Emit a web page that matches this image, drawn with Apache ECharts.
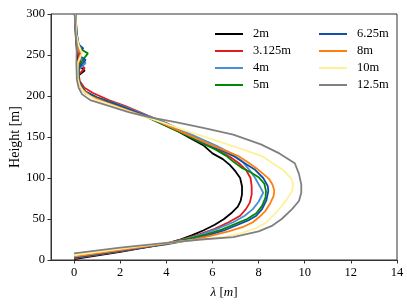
<!DOCTYPE html>
<html><head><meta charset="utf-8">
<script src="https://cdn.jsdelivr.net/npm/echarts@6/dist/echarts.min.js"></script>
<style>html,body{margin:0;padding:0;background:#fff}#c{width:407px;height:305px}</style>
</head><body><div id="c"></div>
<script>
// Series names (legend) and profiles as [lambda (m), height (m)]
const names = ['2m','3.125m','4m','5m','6.25m','8m','10m','12.5m'];
const colors = ['#000000','#e41a1c','#4a8fd4','#008800','#1050a8','#ff7f0e','#fff09a','#808080'];
const xTicks = [0,2,4,6,8,10,12,14];
const yTicks = [0,50,100,150,200,250,300];

const p2m = [[0,1],[2,10],[4,20],[4.6,25],[5.1,30],[5.6,36],[6.1,43],[6.5,50],[6.85,58],[7.1,65],[7.22,72],[7.28,80],[7.28,90],[7.2,100],[7.0,108],[6.75,116],[6.45,123],[6.0,130],[5.6,140],[5.0,149],[4.5,157],[3.9,165],[3.2,174],[2.4,183],[1.8,190],[1.0,197],[0.5,203],[0.3,210],[0.2,218],[0.15,224],[0.46,231],[0.25,236],[0.18,242],[0.12,255],[0.08,270],[0.05,285],[0.03,300]];
const p3125m = [[0,2],[2,10.5],[4,20],[4.8,26],[5.4,31],[6.1,38],[6.7,46],[7.2,54],[7.45,62],[7.62,70],[7.7,80],[7.7,90],[7.65,100],[7.45,110],[7.15,118],[6.75,126],[6.3,133],[5.7,142],[5.1,150],[4.5,160],[4.0,167],[3.2,176],[2.2,188],[1.5,195],[0.8,204],[0.45,210],[0.25,218],[0.2,226],[0.46,234],[0.3,238],[0.25,244],[0.15,255],[0.1,270],[0.06,285],[0.04,300]];
const p4m = [[0,2.5],[2,11],[4,20],[4.9,26],[5.5,31],[6.2,38],[6.9,46],[7.4,54],[7.75,62],[8.0,71],[8.2,82],[8.05,90],[7.85,100],[7.6,110],[7.3,120],[6.8,130],[6.2,139],[5.4,149],[4.6,159],[3.8,169],[3.0,178],[2.0,189],[1.0,198],[0.5,205],[0.3,212],[0.2,220],[0.2,232],[0.5,240],[0.3,246],[0.25,252],[0.15,260],[0.1,275],[0.06,300]];
const p5m = [[0,3],[2,11.5],[4,20],[5.0,26],[5.7,31],[6.4,37],[7.0,44],[7.5,50],[7.9,57],[8.15,66],[8.3,76],[8.32,84],[8.25,93],[8.0,101],[7.65,107],[7.3,112],[6.9,120],[6.6,127],[6.1,135],[5.5,143],[4.8,153],[4.1,162],[3.2,174],[2.0,188],[1.0,198],[0.5,205],[0.3,212],[0.2,220],[0.2,236],[0.35,243],[0.6,252],[0.35,256],[0.2,262],[0.12,275],[0.06,300]];
const p625m = [[0,3],[2,11],[4,19],[5.1,25],[5.8,30],[6.5,36],[7.1,43],[7.6,49],[7.9,54],[8.15,62],[8.34,73],[8.42,84],[8.4,90],[8.2,100],[7.85,110],[7.45,117],[6.9,127],[6.2,136],[5.4,146],[4.6,157],[3.8,167],[3.0,177],[2.0,188],[1.0,198],[0.5,205],[0.3,212],[0.2,220],[0.2,234],[0.5,244],[0.3,248],[0.25,254],[0.4,258],[0.2,263],[0.12,275],[0.06,300]];
const p8m = [[0,4],[2,12],[4,20],[5.2,25],[6.0,30],[6.7,35],[7.3,40],[7.75,46],[8.05,53],[8.3,60],[8.5,69],[8.65,78],[8.68,85],[8.6,92],[8.45,99],[8.2,105],[7.9,112],[7.6,118],[7.1,127],[6.5,134],[5.8,142],[5.0,152],[4.2,162],[3.4,172],[2.4,182],[1.4,192],[0.7,200],[0.35,208],[0.2,216],[0.15,230],[0.2,245],[0.3,252],[0.15,258],[0.1,270],[0.05,300]];
const p10m = [[0,6],[2,13.5],[4,21],[5.5,25],[6.5,28],[7.3,33],[7.9,39],[8.3,45],[8.63,54],[8.95,64],[9.2,73],[9.45,84],[9.5,93],[9.4,100],[9.05,110],[8.6,118],[8.2,126],[7.5,133],[6.75,140],[5.8,149],[4.8,158],[3.8,168],[2.8,177],[1.8,187],[0.9,196],[0.45,204],[0.25,212],[0.15,222],[0.15,240],[0.35,252],[0.2,262],[0.1,275],[0.05,300]];
const p125m = [[0,8],[2,15],[4,21],[5.5,25],[6.9,28],[8.0,35],[8.6,42],[9.0,50],[9.45,62],[9.75,72],[9.85,82],[9.85,92],[9.75,105],[9.57,118],[8.9,130],[8.1,141],[6.9,153],[5.6,161],[4.4,168],[3.3,174],[2.4,180],[1.5,188],[0.7,195],[0.35,202],[0.2,210],[0.12,220],[0.1,240],[0.12,260],[0.06,280],[0.03,300]];
const profiles = [p2m,p3125m,p4m,p5m,p625m,p8m,p10m,p125m];

const FONT = 'Liberation Serif';
const FS = 12.5;
const chart = echarts.init(document.getElementById('c'), null, {renderer:'canvas'});
const legendBase = {
  orient:'vertical', icon:'rect', itemWidth:28, itemHeight:2, itemGap:3,
  textStyle:{fontFamily:FONT, fontSize:FS, color:'#000', lineHeight:14, padding:[0,0,0,5]},
  selectedMode:false
};
chart.setOption({
  animation:false,
  grid:{left:51, right:10, top:14, bottom:45, containLabel:false, outerBoundsMode:'none', show:true, borderColor:'#333', borderWidth:1, backgroundColor:'transparent'},
  legend:[
    Object.assign({left:210, top:22, data:names.slice(0,4)}, legendBase),
    Object.assign({left:314, top:22, data:names.slice(4)}, legendBase)
  ],
  xAxis:{
    type:'value', min:-1, max:14,
    name:'{i|λ} [{i|m}]', nameLocation:'middle', nameGap:26, nameMoveOverlap:false,
    nameTextStyle:{fontFamily:FONT, fontSize:13, color:'#000', rich:{i:{fontFamily:FONT, fontSize:13, fontStyle:'italic', color:'#000'}}},
    axisLine:{onZero:false, lineStyle:{color:'#333', width:1}},
    axisTick:{show:true, length:3.5, inside:false, customValues:xTicks, lineStyle:{color:'#333'}},
    axisLabel:{customValues:xTicks, fontFamily:FONT, fontSize:FS, color:'#000', margin:6},
    splitLine:{show:false}
  },
  yAxis:{
    type:'value', min:0, max:300, interval:50,
    name:'Height [m]', nameLocation:'middle', nameGap:29, nameRotate:90, nameMoveOverlap:false,
    nameTextStyle:{fontFamily:FONT, fontSize:14, color:'#000'},
    axisLine:{show:true, onZero:false, lineStyle:{color:'#333', width:1}},
    axisTick:{show:true, length:3.5, lineStyle:{color:'#333'}},
    axisLabel:{fontFamily:FONT, fontSize:FS, color:'#000', margin:6},
    splitLine:{show:false}
  },
  series: names.map((n,i)=>({
    name:n, type:'line', data:profiles[i], showSymbol:false, symbol:'none',
    lineStyle:{color:colors[i], width:1.8}, itemStyle:{color:colors[i]},
    smooth:false, z:2+i, clip:true
  }))
});
</script></body></html>
